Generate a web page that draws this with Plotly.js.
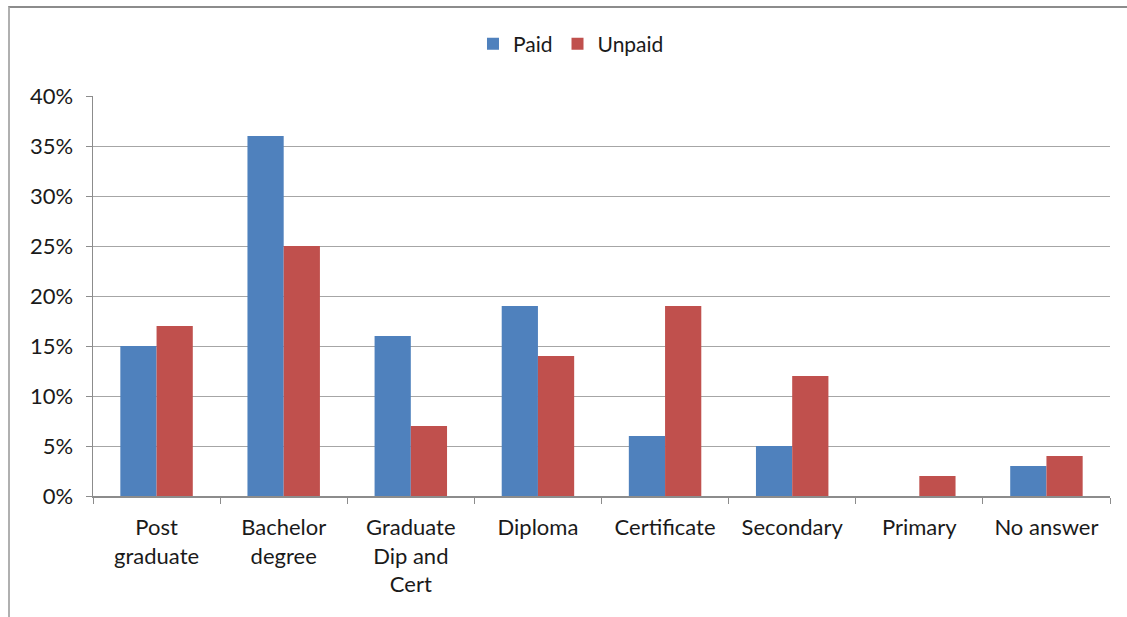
<!DOCTYPE html>
<html>
<head>
<meta charset="utf-8">
<script src="https://cdn.plot.ly/plotly-3.0.1.min.js"></script>
<style>
html,body{margin:0;padding:0;background:#fff;}
#wrap{position:relative;width:1127px;height:617px;overflow:hidden;}
#chart{position:absolute;left:0;top:0;width:1127px;height:617px;}
#frame{position:absolute;left:8px;top:6px;width:1140px;height:640px;border-top:2px solid #8c8c8c;border-left:2px solid #b0b0b0;pointer-events:none;}
</style>
</head>
<body>
<div id="wrap"><div id="chart"></div><div id="frame"></div></div>
<script>
const categories = ["Post<br>graduate","Bachelor<br>degree","Graduate<br>Dip and<br>Cert","Diploma","Certificate","Secondary","Primary","No answer"];
const paid = [0.15,0.36,0.16,0.19,0.06,0.05,0,0.03];
const unpaid = [0.17,0.25,0.07,0.14,0.19,0.12,0.02,0.04];
const yTicks = [0,0.05,0.10,0.15,0.20,0.25,0.30,0.35,0.40];

const font = "Lato, 'Open Sans', sans-serif";
const data = [
  {type:"bar", name:"Paid", x:categories, y:paid, marker:{color:"#4f81bd"}},
  {type:"bar", name:"Unpaid", x:categories, y:unpaid, marker:{color:"#c0504d"}}
];
const layout = {
  width:1127, height:617,
  margin:{l:93, r:17, t:96, b:121, autoexpand:false},
  paper_bgcolor:"#fff", plot_bgcolor:"#fff",
  barmode:"group", bargap:0.43, bargroupgap:0,
  font:{family:font, size:22, color:"#1a1a1a"},
  showlegend:true,
  legend:{orientation:"h", x:0.47, xanchor:"center", y:1.13, yanchor:"middle", font:{size:21}, itemwidth:20, traceorder:"normal"},
  xaxis:{type:"category", showline:true, linecolor:"#8c8c8c", linewidth:1.5, ticks:"outside", tickson:"boundaries", ticklen:6, tickcolor:"#8c8c8c", showgrid:false, tickfont:{size:22}, ticklabelstandoff:11},
  yaxis:{range:[0,0.4], tickvals:yTicks, tickformat:".0%", showline:true, linecolor:"#8c8c8c", linewidth:1.5, ticks:"outside", ticklen:6, tickcolor:"#8c8c8c", showgrid:true, gridcolor:"#a6a6a6", gridwidth:1, zeroline:false, tickfont:{size:22}, ticklabelstandoff:8}
};
Plotly.newPlot("chart", data, layout, {displayModeBar:false, staticPlot:true});
</script>
</body>
</html>
